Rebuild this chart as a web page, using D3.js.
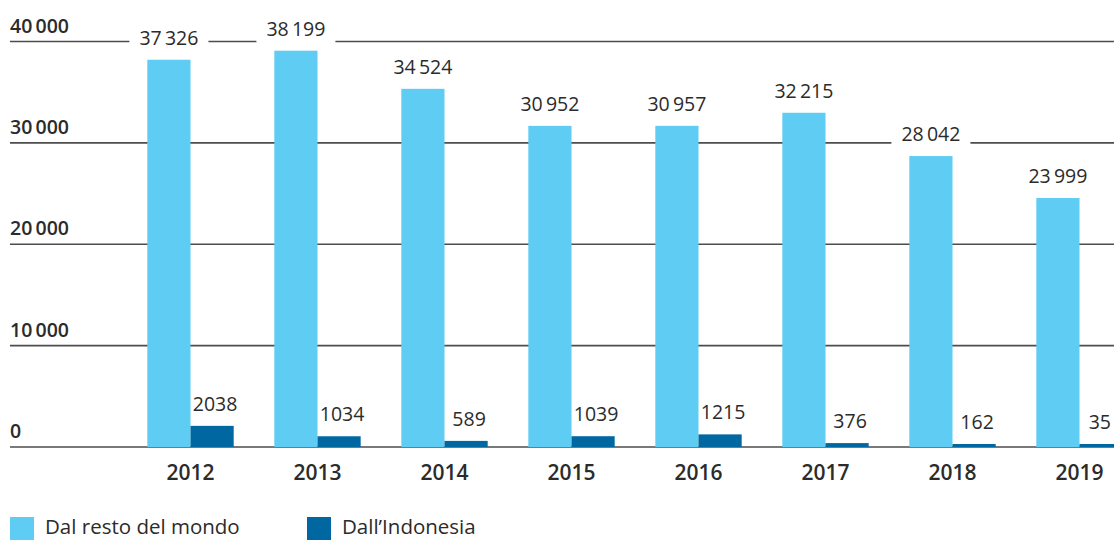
<!DOCTYPE html>
<html>
<head>
<meta charset="utf-8">
<script src="https://cdn.jsdelivr.net/npm/d3@7"></script>
<style>
  body { margin: 0; background: #fff; }
  svg text { font-family: "Open Sans", "Noto Sans", sans-serif; fill: #2b2b2b; }
</style>
</head>
<body>
<div id="graph"></div>
<script>
let width = 1114;
let height = 540;

// data
let years = ["2012", "2013", "2014", "2015", "2016", "2017", "2018", "2019"];
let restoMondo = [37326, 38199, 34524, 30952, 30957, 32215, 28042, 23999];
let indonesia = [2038, 1034, 589, 1039, 1215, 376, 162, 35];
let ticks = [0, 10000, 20000, 30000, 40000];
let seriesNames = ["Dal resto del mondo", "Dall\u2019Indonesia"];
let colors = ["#5fcdf3", "#0067a0"];

// narrow space as thousands separator (10 000 style)
let fmt = (v) => v >= 10000 ? d3.format(",")(v).replace(",", "\u2006") : String(v);

let svg = d3.select('#graph')
  .append('svg')
  .attr('width', width)
  .attr('height', height);

let x = d3.scaleBand()
  .domain(years)
  .range([127, 1143])
  .paddingInner(0.32)
  .paddingOuter(0.16);

let sub = d3.scaleBand()
  .domain([0, 1])
  .range([0, x.bandwidth()]);

// gridlines in the original sit a bit tighter than the bars themselves
let y = d3.scaleLinear()
  .domain([0, 40000])
  .range([447, 41.5]);

let yBar = d3.scaleLinear()
  .domain([0, 40000])
  .range([447, 32]);

// gridlines + tick labels
let grid = svg.append('g');
grid.selectAll('line')
  .data(ticks)
  .enter()
  .append('line')
  .attr('x1', 10)
  .attr('x2', width)
  .attr('y1', d => y(d))
  .attr('y2', d => y(d))
  .attr('stroke', '#4d4d4d')
  .attr('stroke-width', 1.7);

grid.selectAll('text')
  .data(ticks)
  .enter()
  .append('text')
  .attr('x', 10)
  .attr('y', d => y(d) - 9)
  .attr('font-size', 19.5)
  .attr('font-weight', 600)
  .text(d => fmt(d));

let series = [restoMondo, indonesia];

series.forEach((vals, s) => {
  let g = svg.append('g');

  g.selectAll('rect')
    .data(vals)
    .enter()
    .append('rect')
    .attr('x', (d, i) => x(years[i]) + sub(s))
    .attr('width', sub.bandwidth())
    .attr('y', d => Math.min(yBar(d), yBar(0) - 3))
    .attr('height', d => Math.max(yBar(0) - yBar(d), 3))
    .attr('fill', colors[s]);

  // value labels with white knockout behind them
  let lab = g.selectAll('g.lab')
    .data(vals)
    .enter()
    .append('g')
    .attr('class', 'lab');

  lab.append('text')
    .attr('x', (d, i) => x(years[i]) + sub(s) + sub.bandwidth() / 2 + (s ? 3 : 0))
    .attr('y', d => Math.min(yBar(d), yBar(0) - 3) - 15)
    .attr('text-anchor', 'middle')
    .attr('font-size', 19.5)
    .attr('font-weight', 500)
    .text(d => fmt(d))
    .each(function() {
      let b = this.getBBox();
      // keep the last label inside the frame
      if (b.x + b.width > width - 3) {
        let t = d3.select(this);
        t.attr('x', +t.attr('x') - (b.x + b.width - (width - 3)));
        b = this.getBBox();
      }
      d3.select(this.parentNode).insert('rect', 'text')
        .attr('x', b.x - 10)
        .attr('y', b.y)
        .attr('width', b.width + 20)
        .attr('height', b.height + 4)
        .attr('fill', s ? 'none' : '#fff');
    });
});

// year labels
svg.append('g')
  .selectAll('text')
  .data(years)
  .enter()
  .append('text')
  .attr('x', d => x(d) + x.bandwidth() / 2)
  .attr('y', 480)
  .attr('text-anchor', 'middle')
  .attr('font-size', 21)
  .attr('font-weight', 600)
  .text(d => d);

// legend
let legX = [10, 307];
let leg = svg.append('g')
  .selectAll('g')
  .data(seriesNames)
  .enter()
  .append('g')
  .attr('transform', (d, i) => 'translate(' + legX[i] + ',517)');

leg.append('rect')
  .attr('width', 24)
  .attr('height', 24)
  .attr('fill', (d, i) => colors[i]);

leg.append('text')
  .attr('x', 35)
  .attr('y', 17)
  .attr('font-size', 20.5)
  .attr('font-weight', 500)
  .text(d => d);
</script>
</body>
</html>
